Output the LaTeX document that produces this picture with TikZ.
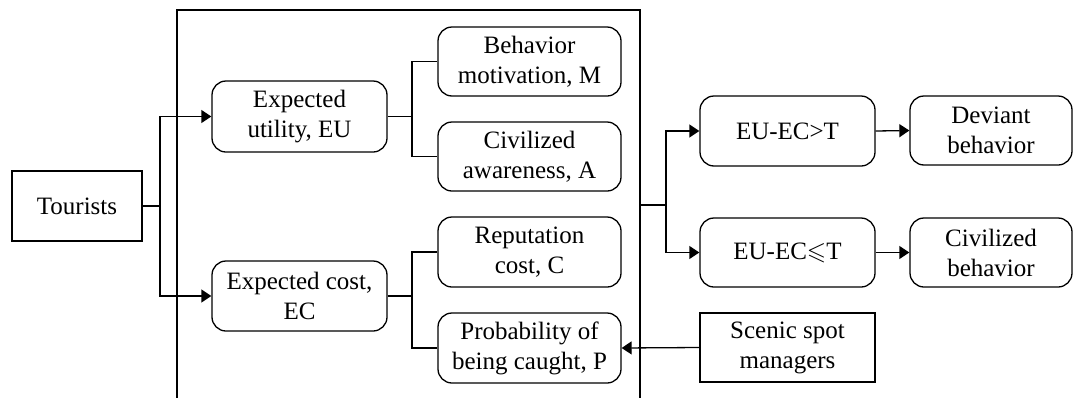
\documentclass[tikz,border=0pt]{standalone}
\usepackage{amssymb}
\usepackage{fontspec}
\setmainfont{Liberation Serif}
\usetikzlibrary{arrows.meta}
\tikzset{
  base/.style={draw, line width=1.3pt, align=center, inner sep=0pt,
    font=\fontsize{25}{30}\selectfont},
  sqbox/.style={base},
  rbox/.style={base, rounded corners=14pt},
  link/.style={line width=1.3pt},
  arr/.style={line width=1.3pt, -{Triangle[length=10pt,width=13pt]}},
}
\begin{document}
\begin{tikzpicture}[x=1pt,y=-1pt]
\useasboundingbox (0,0) rectangle (1074,397);
\clip (0,0) rectangle (1074,397);

% frame (open at the bottom)
\draw[link] (177,405) -- (177,10) -- (640,10) -- (640,405);
\coordinate (fr) at (640,205);

\node[sqbox, minimum width=130pt, minimum height=70pt] (tour) at (77,206) {Tourists};

\node[rbox, minimum width=175pt, minimum height=71pt] (eu) at (299.5,116.5) {Expected\\utility, EU};
\node[rbox, minimum width=175pt, minimum height=70pt] (ec) at (299.5,296) {Expected cost,\\EC};

\node[rbox, minimum width=183pt, minimum height=69pt] (bm) at (529.5,61.5) {Behavior\\motivation, M};
\node[rbox, minimum width=183pt, minimum height=69pt] (ca) at (529.5,156.5) {Civilized\\awareness, A};
\node[rbox, minimum width=183pt, minimum height=70pt] (rc) at (529.5,252) {Reputation\\cost, C};
\node[rbox, minimum width=183pt, minimum height=70pt] (pc) at (529.5,348) {Probability of\\being caught, P};

\node[rbox, minimum width=175pt, minimum height=70pt] (gt) at (787.5,131) {EU-EC>T};
\node[rbox, minimum width=175pt, minimum height=69pt] (le) at (787.5,252.5) {EU-EC$\leqslant$T};

\node[rbox, minimum width=162pt, minimum height=69pt] (dev) at (991,130.5) {Deviant\\behavior};
\node[rbox, minimum width=162pt, minimum height=69pt] (civ) at (991,252.5) {Civilized\\behavior};

\node[sqbox, minimum width=175pt, minimum height=69pt] (scen) at (787.5,347.5) {Scenic spot\\managers};

% Tourists -> EU / EC
\draw[link] (tour.east) -- (160,206);
\draw[arr] (160,206) |- (eu.west);
\draw[arr] (160,206) |- (ec.west);

% EU -> M / A
\draw[link] (eu.east) -- (412,116.5);
\draw[link] (412,116.5) |- (bm.west);
\draw[link] (412,116.5) |- (ca.west);

% EC -> C / P
\draw[link] (ec.east) -- (412,296);
\draw[link] (412,296) |- (rc.west);
\draw[link] (412,296) |- (pc.west);

% frame -> conditions
\draw[link] (fr) -- (666,205);
\draw[arr] (666,205) |- (gt.west);
\draw[arr] (666,205) |- (le.west);

\draw[arr] (gt.east) -- (dev.west);
\draw[arr] (le.east) -- (civ.west);

\draw[arr] (scen.west) -- (pc.east);
\end{tikzpicture}
\end{document}
